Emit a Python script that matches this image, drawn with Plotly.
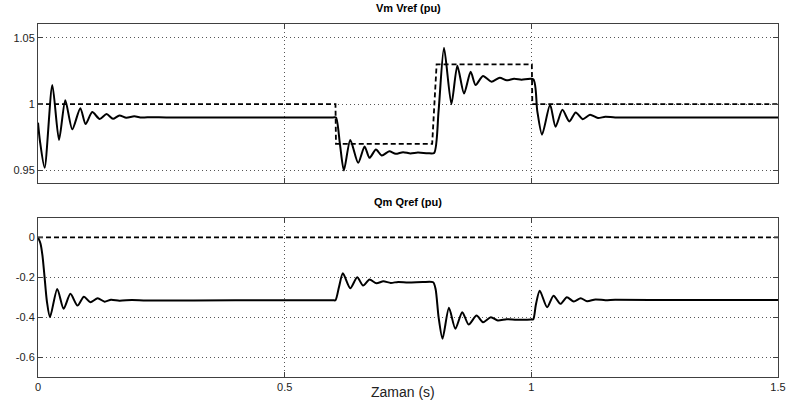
import plotly.graph_objects as go
from plotly.subplots import make_subplots

# ---- data ----
t_vref = [0, 0.603, 0.604, 0.799, 0.808, 1.001, 1.002, 1.5]
vref   = [1.0, 1.0, 0.97, 0.97, 1.03, 1.03, 1.0, 1.0]

t_vm = [0, 0.004, 0.0134, 0.029, 0.0426, 0.0553, 0.0695, 0.0858, 0.0965, 0.110,
        0.125, 0.139, 0.152, 0.165, 0.179, 0.195, 0.21, 0.23, 0.26, 0.40, 0.598, 0.604,
        0.612, 0.620, 0.633, 0.649, 0.662, 0.672, 0.685, 0.697, 0.712, 0.725,
        0.74, 0.755, 0.77, 0.79, 0.803,
        0.812, 0.823, 0.838, 0.850, 0.8636, 0.877, 0.887, 0.902, 0.919, 0.936,
        0.95, 0.965, 0.98, 1.004,
        1.012, 1.0217, 1.038, 1.049, 1.063, 1.077, 1.090, 1.104, 1.119, 1.135,
        1.15, 1.17, 1.30, 1.5]
vm = [0.986, 0.972, 0.952, 1.0145, 0.973, 1.003, 0.981, 0.997, 0.985, 0.994,
      0.9888, 0.9925, 0.989, 0.9915, 0.9897, 0.9908, 0.9899, 0.9902, 0.990, 0.990, 0.990, 0.990,
      0.970, 0.950, 0.973, 0.9557, 0.968, 0.9595, 0.9657, 0.9612, 0.9645, 0.9625,
      0.9638, 0.9628, 0.9635, 0.9630, 0.9632,
      0.995, 1.0425, 1.000, 1.029, 1.008, 1.0245, 1.0145, 1.0212, 1.017, 1.020,
      1.018, 1.0192, 1.0185, 1.0187,
      0.995, 0.977, 0.9995, 0.983, 0.9957, 0.987, 0.9937, 0.9887, 0.992, 0.9895,
      0.9905, 0.990, 0.990, 0.990]

t_qref = [0, 1.5]
qref   = [0.0, 0.0]

t_qm = [0, 0.005, 0.009, 0.013, 0.018, 0.0243, 0.039, 0.052, 0.0657, 0.080, 0.093,
        0.106, 0.121, 0.135, 0.148, 0.165, 0.19, 0.22, 0.40, 0.598, 0.603,
        0.610, 0.618, 0.633, 0.647, 0.659, 0.672, 0.686, 0.70, 0.715, 0.73, 0.75,
        0.78, 0.801,
        0.806, 0.812, 0.820, 0.833, 0.846, 0.860, 0.873, 0.889, 0.902, 0.918,
        0.932, 0.95, 0.97, 0.999,
        1.004, 1.009, 1.017, 1.032, 1.045, 1.059, 1.072, 1.086, 1.100, 1.113,
        1.13, 1.15, 1.17, 1.30, 1.5]
qm = [0.0, -0.03, -0.09, -0.19, -0.32, -0.40, -0.258, -0.358, -0.283, -0.342, -0.297,
      -0.325, -0.305, -0.322, -0.312, -0.317, -0.314, -0.316, -0.315, -0.315, -0.315,
      -0.25, -0.18, -0.255, -0.20, -0.2415, -0.2115, -0.23, -0.22, -0.228, -0.223, -0.226,
      -0.224, -0.225,
      -0.26, -0.40, -0.508, -0.353, -0.458, -0.375, -0.437, -0.392, -0.425, -0.40,
      -0.417, -0.41, -0.413, -0.412,
      -0.41, -0.34, -0.267, -0.35, -0.292, -0.333, -0.30, -0.3215, -0.305, -0.32,
      -0.311, -0.315, -0.313, -0.314, -0.314]

x_ticks = [0, 0.5, 1, 1.5]
x_ticklabels = ["0", "0.5", "1", "1.5"]
v_ticks = [0.95, 1.0, 1.05]
v_ticklabels = ["0.95", "1", "1.05"]
q_ticks = [0, -0.2, -0.4, -0.6]
q_ticklabels = ["0", "-0.2", "-0.4", "-0.6"]

titles = ["Vm Vref (pu)", "Qm Qref (pu)"]
xlabel = "Zaman (s)"

# ---- figure ----
fig = make_subplots(rows=2, cols=1, vertical_spacing=0.0)

fig.add_trace(go.Scatter(x=t_vm, y=vm, mode="lines",
                         line=dict(color="black", width=2, shape="spline", smoothing=0.7)),
              row=1, col=1)
fig.add_trace(go.Scatter(x=t_vref, y=vref, mode="lines",
                         line=dict(color="black", width=1.8, dash="5px,3px")),
              row=1, col=1)
fig.add_trace(go.Scatter(x=t_qm, y=qm, mode="lines",
                         line=dict(color="black", width=2, shape="spline", smoothing=0.7)),
              row=2, col=1)
fig.add_trace(go.Scatter(x=t_qref, y=qref, mode="lines",
                         line=dict(color="black", width=1.8, dash="5px,3px")),
              row=2, col=1)

W, H = 788, 406
ml, mr, mt, mb = 38, 10, 24, 29
ph = H - mt - mb
top_dom = [1 - (183 - mt) / ph, 1]
bot_dom = [0, 1 - (217.5 - mt) / ph]

axis_common = dict(showline=True, linecolor="#404040", linewidth=1, mirror="allticks",
                   ticks="inside", ticklen=5, tickcolor="#404040",
                   showgrid=True, gridcolor="#555555", gridwidth=1, griddash="1px,3px",
                   zeroline=False, automargin=False,
                   tickfont=dict(family="Liberation Sans, Arial, sans-serif", size=11, color="#222222"))

fig.update_xaxes(range=[0, 1.5], tickvals=x_ticks, ticktext=x_ticklabels, **axis_common)
fig.update_xaxes(showticklabels=False, row=1, col=1)
fig.update_yaxes(**axis_common)
fig.update_yaxes(range=[0.9405, 1.0605], tickvals=v_ticks, ticktext=v_ticklabels,
                 domain=top_dom, row=1, col=1)
fig.update_yaxes(range=[-0.7, 0.1], tickvals=q_ticks, ticktext=q_ticklabels,
                 domain=bot_dom, row=2, col=1)

annotations = [
    dict(text="<b>%s</b>" % titles[0], xref="x domain", yref="y domain", x=0.5, y=1,
         yanchor="bottom", yshift=8, showarrow=False,
         font=dict(family="Liberation Sans, Arial, sans-serif", size=11, color="black")),
    dict(text="<b>%s</b>" % titles[1], xref="x2 domain", yref="y2 domain", x=0.5, y=1,
         yanchor="bottom", yshift=8, showarrow=False,
         font=dict(family="Liberation Sans, Arial, sans-serif", size=11, color="black")),
    dict(text=xlabel, xref="paper", yref="paper", x=(403 - ml) / (W - ml - mr), y=0,
         yanchor="middle", yshift=-15, showarrow=False,
         font=dict(family="Liberation Sans, Arial, sans-serif", size=14, color="#222222")),
]

fig.update_layout(width=W, height=H, margin=dict(l=ml, r=mr, t=mt, b=mb),
                  paper_bgcolor="white", plot_bgcolor="white",
                  showlegend=False, annotations=annotations)

# remove the browser's default 8px page margin so the figure sits at the window origin
fig.write_html("out.html", config={"displayModeBar": False},
               post_script="document.body.style.margin='0';")
